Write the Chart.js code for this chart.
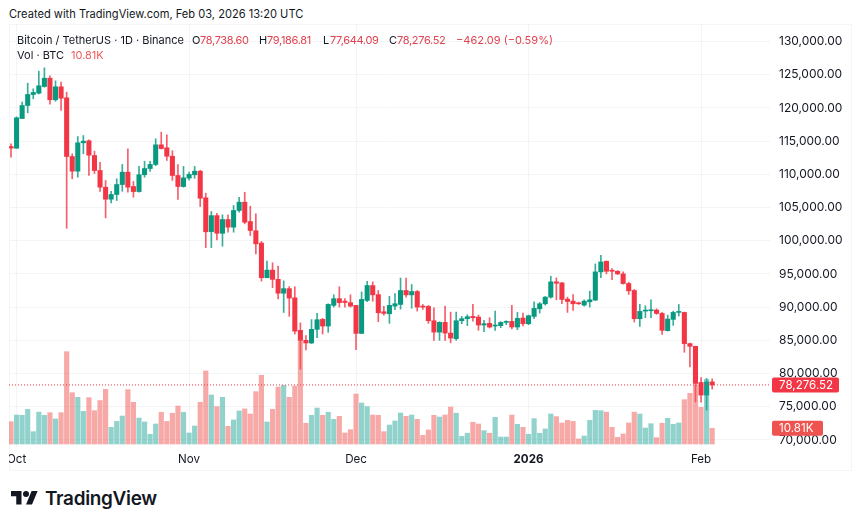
<!DOCTYPE html>
<html>
<head>
<meta charset="utf-8">
<title>BTC/USDT</title>
<script src="https://cdn.jsdelivr.net/npm/chart.js@4"></script>
<style>
  html, body { margin: 0; padding: 0; background: #fff; }
  body { width: 860px; height: 526px; position: relative; overflow: hidden; font-family: Inter, "Noto Sans", sans-serif; color: #131722; }
  .t { position: absolute; white-space: nowrap; font-size: 11px; line-height: 14px; }
  .rojo { color: #e0424f; }
  .num { letter-spacing: -0.33px; }
  #marco { position: absolute; left: 9px; top: 24px; width: 841px; height: 445px; border: 1px solid #f4f5f6; }
  #grafico { position: absolute; left: 9px; top: 24px; }
  #logo { position: absolute; left: 11px; top: 488px; }
  #marca { position: absolute; left: 45px; top: 486px; font-size: 18.9px; line-height: 26px; font-weight: 600; letter-spacing: -0.3px; }
</style>
</head>
<body>
<div class="t" style="left:9px;top:7px;font-size:11.1px">Created with TradingView.com, Feb 03, 2026 13:20 UTC</div>
<div id="marco"></div>
<canvas id="grafico" width="842" height="446"></canvas>
<div class="t" style="left:17px;top:33px">Bitcoin / TetherUS · 1D · Binance</div>
<div class="t" style="left:192px;top:33px">O</div><div class="t rojo num" style="left:200px;top:33px">78,738.60</div>
<div class="t" style="left:259px;top:33px">H</div><div class="t rojo num" style="left:267px;top:33px">79,186.81</div>
<div class="t" style="left:323px;top:33px">L</div><div class="t rojo num" style="left:330px;top:33px">77,644.09</div>
<div class="t" style="left:389px;top:33px">C</div><div class="t rojo num" style="left:397px;top:33px">78,276.52</div>
<div class="t rojo" style="left:456px;top:33px">−462.09 (−0.59%)</div>
<div class="t" style="left:17px;top:48px">Vol · BTC</div><div class="t" style="left:71px;top:48px;color:#ef5a5a">10.81K</div>
<svg id="logo" width="27" height="21" viewBox="0 0 36 28"><path fill="#131722" d="M14 22H7V11H0V4h14v18zM28 22h-8l7.5-18h8L28 22z"/><circle fill="#131722" cx="20" cy="8" r="4"/></svg>
<div id="marca">TradingView</div>
<script>
const precios = [130000, 125000, 120000, 115000, 110000, 105000, 100000, 95000, 90000, 85000, 80000, 75000, 70000]
const posicionesMes = [1, 32, 62, 93, 124]
const etiquetasMes = ['Oct', 'Nov', 'Dec', '2026', 'Feb']

// Velas diarias, desde el 30 de septiembre
const aperturas = [114190, 113930, 118400, 120360, 122020, 122220, 123220, 124470, 121220, 123180, 121520, 112680, 110470, 114740, 115050, 112830, 110570, 108060, 106250, 106960, 108460, 110320, 108160, 107400, 109930, 110870, 111480, 114440, 113990, 112720, 109820, 108160, 109430, 109930, 110470, 106460, 101370, 103780, 101120, 103190, 102040, 104550, 105800, 102880, 101500, 99640, 94420, 95570, 94180, 92090, 92780, 91400, 86500, 85000, 84600, 86650, 88150, 87150, 90260, 91270, 90900, 90670, 90260, 86040, 91000, 93250, 91880, 89300, 89000, 90150, 90400, 92500, 91840, 92350, 90150, 90100, 87950, 86230, 87700, 86090, 85240, 87950, 88250, 88600, 88500, 87300, 87550, 87150, 87200, 87700, 87850, 87000, 88350, 87500, 88600, 89750, 90500, 91500, 93800, 93650, 91200, 90900, 90650, 90300, 90800, 91050, 95300, 96900, 95500, 95400, 95000, 93550, 92500, 88250, 89400, 89450, 89550, 89050, 86450, 88150, 89200, 89200, 84500, 84100, 78650, 76750, 78738.6]
const maximos = [114590, 118650, 120860, 123720, 122880, 125530, 126030, 124830, 124080, 123870, 122370, 113080, 115690, 115840, 115190, 113480, 111820, 109070, 107440, 109320, 111480, 113840, 108920, 111190, 111970, 111970, 115350, 116340, 115950, 113560, 111480, 111190, 110320, 111190, 110600, 107160, 104400, 104140, 103900, 103900, 105300, 106530, 107300, 105200, 104050, 99900, 96920, 96680, 96190, 93950, 93100, 93070, 87620, 85700, 88120, 89060, 88300, 90500, 91860, 93070, 91300, 91860, 90260, 92290, 93900, 93800, 92500, 90100, 91610, 92020, 94380, 94380, 93400, 92500, 90400, 90250, 89900, 87800, 90150, 89250, 89250, 88600, 88850, 90400, 88800, 88000, 88400, 89400, 87800, 87950, 90250, 89200, 89100, 88800, 90800, 90700, 91600, 94650, 94400, 93700, 91500, 91900, 90750, 91100, 92400, 96500, 97800, 96950, 95800, 95500, 95300, 93750, 92650, 90400, 90200, 91100, 89750, 89200, 88800, 89400, 90400, 89250, 84600, 84100, 79400, 79250, 79186.81]
const minimos = [112575, 113930, 118400, 119260, 121370, 122100, 123120, 120560, 121000, 119610, 101880, 109320, 109560, 113090, 109820, 110120, 107440, 103440, 105700, 106050, 107440, 107300, 106550, 107300, 109560, 110420, 111300, 113800, 112080, 109070, 106200, 108060, 109100, 109400, 105150, 98960, 98960, 100130, 99170, 101280, 101280, 104280, 102540, 100780, 98000, 93910, 94420, 92920, 91220, 89190, 88610, 85950, 80640, 83550, 84500, 85400, 85950, 86200, 90000, 90000, 90000, 90000, 83600, 86000, 90800, 90890, 87800, 88800, 87550, 89600, 89700, 91500, 89830, 89400, 89650, 87550, 85000, 85000, 85000, 84620, 85000, 87500, 87200, 87900, 86500, 86300, 86850, 86500, 86900, 87350, 86700, 86600, 87150, 87350, 88250, 89100, 90300, 91350, 91100, 90500, 89200, 89500, 90400, 90150, 90000, 91000, 94450, 95000, 94150, 94900, 93450, 91900, 87750, 87100, 88400, 88400, 88900, 85900, 86400, 87250, 88650, 83200, 81000, 75700, 75700, 74500, 77644.09]
const cierres = [113950, 118510, 120360, 122020, 122320, 123330, 124470, 121220, 123180, 121460, 112680, 110470, 114740, 114990, 112880, 110570, 108060, 106250, 106960, 108460, 110320, 108060, 107400, 109930, 110870, 111480, 114440, 113880, 112720, 109820, 108160, 109470, 109990, 110470, 106400, 101340, 103780, 101120, 103190, 102040, 104550, 105800, 102790, 101540, 99530, 94420, 95570, 94180, 92090, 92780, 91360, 86380, 85000, 84600, 86650, 88100, 87150, 90410, 91270, 90670, 90700, 90160, 86040, 91160, 93250, 91840, 89150, 89050, 90260, 90510, 92500, 91840, 92350, 90000, 90000, 87950, 86230, 87700, 86090, 85330, 87950, 88250, 88550, 88400, 87300, 87500, 87000, 87240, 87700, 87850, 87000, 88300, 87500, 88700, 89800, 90500, 91500, 93800, 93600, 91150, 90850, 90500, 90500, 90900, 91100, 95300, 96800, 95400, 95400, 95000, 93550, 92450, 88250, 89350, 89500, 89550, 89050, 86500, 88200, 89200, 89300, 84500, 84100, 78500, 76750, 78738.6, 78276.52]
const volumenes = [15.4, 20, 19.8, 23.9, 8.5, 22, 19.8, 21.6, 17.3, 21.6, 63.7, 35.4, 32.2, 22.5, 32, 23, 30, 37.7, 11.5, 15.6, 19.3, 37.5, 28.8, 17.9, 15.2, 6.7, 13.8, 21.9, 15.6, 21.2, 26.2, 21.9, 7.6, 12.4, 28.8, 50.4, 33.8, 25.8, 32.2, 12.2, 16.6, 22.8, 24.2, 20.7, 36.1, 47.4, 15.2, 23.9, 39.3, 40.5, 32.2, 40, 72, 14.3, 19.8, 24.8, 19.8, 21.9, 17, 19.1, 7.6, 9.9, 34.5, 28.3, 25.8, 20, 19.8, 8.5, 13.1, 15.9, 21.4, 19.1, 20, 17, 6, 9.7, 19.8, 18.6, 20, 25.5, 21.2, 5.3, 7.4, 15, 13.8, 9.2, 7.4, 18.4, 4.8, 4.8, 20, 13.6, 11.5, 6.7, 17.5, 7.4, 10.4, 20.7, 18.9, 14.5, 16.3, 15.6, 3.5, 5.5, 16.3, 23.2, 23, 22, 11.5, 4.6, 6.9, 14.5, 22, 20.7, 11, 14, 4.4, 14.3, 17.7, 13.6, 14.5, 30.6, 35, 40.7, 25.3, 44.6, 10.81]

const ultimoPrecio = 78276.52
const ultimoVolumen = 10.81

const VERDE = '#089981'
const ROJO = '#f23645'
const subio = cierres.map((c, i) => c >= aperturas[i])

const etiquetas = {
    id: 'etiquetas',
    afterDatasetsDraw(chart) {
        const ctx = chart.ctx
        const yPrecio = chart.scales.y.getPixelForValue(ultimoPrecio)
        const yVol = chart.scales.vol.getPixelForValue(ultimoVolumen)
        const caja = (texto, y, ancho, color) => {
            ctx.save()
            ctx.fillStyle = color
            ctx.beginPath()
            ctx.roundRect(763, y - 7.5, ancho, 15, 2)
            ctx.fill()
            ctx.fillStyle = '#fff'
            ctx.font = '11.6px Inter'
            ctx.textBaseline = 'middle'
            ctx.fillText(texto, 770, y + 0.5)
            ctx.restore()
        }
        caja('78,276.52', yPrecio, 67, ROJO)
        caja('10.81K', yVol, 51, '#ef5350')
    }
}

new Chart(document.querySelector('#grafico'), {
    type: 'bar',
    data: {
        datasets: [
            {
                label: 'Volumen',
                data: volumenes.map((v, i) => ({ x: i, y: v })),
                yAxisID: 'vol',
                backgroundColor: subio.map(s => s ? 'rgba(38,166,154,0.5)' : 'rgba(239,83,80,0.5)'),
                barThickness: 4.5,
                order: 1
            },
            {
                label: 'Cuerpo',
                data: aperturas.map((a, i) => ({ x: i, y: [a, cierres[i]] })),
                backgroundColor: subio.map(s => s ? VERDE : ROJO),
                barThickness: 4.4,
                minBarLength: 1,
                order: 2
            },
            {
                label: 'Mecha',
                data: maximos.map((h, i) => ({ x: i, y: [minimos[i], h] })),
                backgroundColor: subio.map(s => s ? 'rgba(8,153,129,0.8)' : 'rgba(242,54,69,0.8)'),
                barThickness: 1,
                order: 3
            },
            {
                type: 'line',
                label: 'Ultimo',
                data: [{ x: -0.36, y: ultimoPrecio }, { x: 136.39, y: ultimoPrecio }],
                borderColor: ROJO,
                borderWidth: 1,
                borderDash: [1, 2],
                pointRadius: 0,
                order: 0
            }
        ]
    },
    options: {
        responsive: false,
        animation: false,
        grouped: false,
        layout: { padding: 0 },
        plugins: { legend: { display: false }, tooltip: { enabled: false } },
        scales: {
            x: {
                type: 'linear',
                min: -0.36,
                max: 136.39,
                offset: false,
                grid: { color: '#f3f4f6', offset: false, drawTicks: false },
                border: { display: false },
                afterBuildTicks: scale => { scale.ticks = posicionesMes.map(value => ({ value })) },
                afterFit: scale => { scale.height = 23; scale.paddingLeft = 0; scale.paddingRight = 0 },
                ticks: {
                    autoSkip: false,
                    maxRotation: 0,
                    padding: 6,
                    color: '#131722',
                    font: c => ({ family: 'Inter', size: 11.6, weight: c.tick && c.tick.value === 93 ? 'bold' : 'normal' }),
                    callback: v => etiquetasMes[posicionesMes.indexOf(v)]
                }
            },
            y: {
                position: 'right',
                min: 68932,
                max: 132635.5,
                grid: { color: '#f3f4f6', drawTicks: false },
                border: { display: false },
                afterBuildTicks: scale => { scale.ticks = precios.map(value => ({ value })) },
                afterFit: scale => { scale.width = 81; scale.paddingTop = 0; scale.paddingBottom = 0 },
                ticks: {
                    padding: 9,
                    color: '#131722',
                    font: { family: 'Inter', size: 12 },
                    callback: v => v.toLocaleString('en-US', { minimumFractionDigits: 2 })
                }
            },
            vol: {
                display: false,
                min: -2.07,
                max: 289.8
            }
        }
    },
    plugins: [etiquetas]
})
</script>
</body>
</html>
